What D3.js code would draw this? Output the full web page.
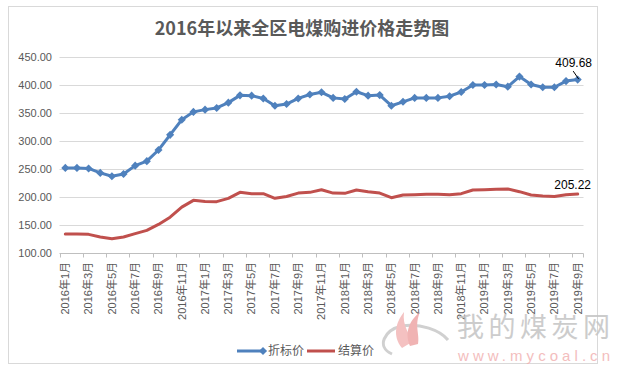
<!DOCTYPE html>
<html lang="zh">
<head>
<meta charset="utf-8" />
<title>2016年以来全区电煤购进价格走势图</title>
<script src="https://d3js.org/d3.v7.min.js"></script>
<style>
  body { margin: 0; background: #fff; }
  text { font-family: "Liberation Sans", "Noto Sans CJK SC", sans-serif; }
</style>
</head>
<body>
<div id="chart"></div>
<script>
// categories (monthly, 2016-01 .. 2019-09)
var months = [
  "2016年1月","2016年2月","2016年3月","2016年4月","2016年5月","2016年6月",
  "2016年7月","2016年8月","2016年9月","2016年10月","2016年11月","2016年12月",
  "2017年1月","2017年2月","2017年3月","2017年4月","2017年5月","2017年6月",
  "2017年7月","2017年8月","2017年9月","2017年10月","2017年11月","2017年12月",
  "2018年1月","2018年2月","2018年3月","2018年4月","2018年5月","2018年6月",
  "2018年7月","2018年8月","2018年9月","2018年10月","2018年11月","2018年12月",
  "2019年1月","2019年2月","2019年3月","2019年4月","2019年5月","2019年6月",
  "2019年7月","2019年8月","2019年9月"
];

// 折标价
var zhebiao = [
  252, 252, 251, 243, 237, 241, 256, 264, 284, 311, 338, 352,
  356, 359, 368.5, 381.5, 381, 376, 363, 366, 376, 383, 387, 377,
  375, 388, 381, 382, 363, 370, 377, 377, 377, 380, 387.5, 400,
  400, 401, 397, 415, 401, 396, 396, 407, 409.68
];

// 结算价
var jiesuan = [
  134, 134, 133.3, 128.6, 125.6, 128.6, 134.5, 140.5, 151, 164, 182, 194,
  192, 191.7, 197.6, 208.3, 206, 206, 197.6, 201, 207, 208.3, 213, 207,
  206.5, 212.5, 209.5, 207, 198.8, 203.6, 204, 204.8, 204.8, 204, 206, 212.5,
  213, 213.7, 214.3, 209.5, 203.6, 201.8, 201, 204, 205.22
];

var yTicks = [100, 150, 200, 250, 300, 350, 400, 450];
var seriesNames = ["折标价", "结算价"];
var colors = ["#4F81BD", "#C0504D"];

var W = 630, H = 373;
var svg = d3.select("#chart").append("svg")
  .attr("width", W).attr("height", H);

// chart frame
svg.append("rect")
  .attr("x", 8.5).attr("y", 6.5)
  .attr("width", 589).attr("height", 357)
  .attr("fill", "#fff").attr("stroke", "#d9d9d9");

// title
svg.append("text")
  .attr("x", 302).attr("y", 35)
  .attr("text-anchor", "middle")
  .style("font-family", "'Noto Sans CJK SC', sans-serif")
  .style("font-size", "18px").style("font-weight", "bold")
  .attr("fill", "#595959")
  .text("2016年以来全区电煤购进价格走势图");

var x = d3.scaleBand().domain(months).range([59.5, 583.5]).padding(0);
var y = d3.scaleLinear().domain([100, 450]).range([253, 57]);
var cx = function (m) { return x(m) + x.bandwidth() / 2; };

// gridlines
svg.append("g").selectAll("line")
  .data(yTicks.slice(1))
  .enter().append("line")
  .attr("x1", 59.5).attr("x2", 583.5)
  .attr("y1", function (d) { return Math.round(y(d)) + 0.5; })
  .attr("y2", function (d) { return Math.round(y(d)) + 0.5; })
  .attr("stroke", "#d9d9d9");

// y labels
svg.append("g").selectAll("text")
  .data(yTicks)
  .enter().append("text")
  .attr("x", 52).attr("y", function (d) { return y(d); })
  .attr("dy", "0.35em")
  .attr("text-anchor", "end")
  .style("font-size", "11px")
  .attr("fill", "#595959")
  .text(function (d) { return d.toFixed(2); });

// x axis line + ticks every 2 months
var axisY = Math.round(y(100)) + 0.5;
svg.append("line")
  .attr("x1", 59.5).attr("x2", 583.5)
  .attr("y1", axisY).attr("y2", axisY)
  .attr("stroke", "#bfbfbf");

var tickMonths = months.filter(function (d, i) { return i % 2 === 0; });
svg.append("g").selectAll("line")
  .data(tickMonths)
  .enter().append("line")
  .attr("x1", function (d) { return Math.round(x(d)) + 0.5; })
  .attr("x2", function (d) { return Math.round(x(d)) + 0.5; })
  .attr("y1", axisY).attr("y2", axisY + 4)
  .attr("stroke", "#bfbfbf");
svg.append("line")
  .attr("x1", 583.5).attr("x2", 583.5)
  .attr("y1", axisY).attr("y2", axisY + 4)
  .attr("stroke", "#bfbfbf");

// x labels, rotated
svg.append("g").selectAll("text")
  .data(tickMonths)
  .enter().append("text")
  .attr("transform", function (d) { return "translate(" + cx(d) + ",262)rotate(-90)"; })
  .attr("dy", "0.35em")
  .attr("text-anchor", "end")
  .style("font-size", "11px")
  .attr("fill", "#595959")
  .text(function (d) { return d; });

// lines
var line = d3.line()
  .x(function (d, i) { return cx(months[i]); })
  .y(function (d) { return y(d); });

svg.append("path").datum(jiesuan)
  .attr("d", line).attr("fill", "none")
  .attr("stroke", colors[1]).attr("stroke-width", 3)
  .attr("stroke-linejoin", "round").attr("stroke-linecap", "round");

svg.append("path").datum(zhebiao)
  .attr("d", line).attr("fill", "none")
  .attr("stroke", colors[0]).attr("stroke-width", 3)
  .attr("stroke-linejoin", "round").attr("stroke-linecap", "round");

var diamond = d3.symbol().type(d3.symbolDiamond2).size(42);
svg.append("g").selectAll("path")
  .data(zhebiao)
  .enter().append("path")
  .attr("d", diamond)
  .attr("transform", function (d, i) { return "translate(" + cx(months[i]) + "," + y(d) + ")"; })
  .attr("fill", colors[0]);

// end labels
var last = months.length - 1;
var lx = cx(months[last]);
svg.append("line")
  .attr("x1", lx - 4.5).attr("y1", y(zhebiao[last]) - 8.5)
  .attr("x2", lx + 1).attr("y2", y(zhebiao[last]) - 0.5)
  .attr("stroke", "#000").attr("stroke-width", 1);
svg.append("text")
  .attr("x", lx - 4).attr("y", y(zhebiao[last]) - 13)
  .attr("text-anchor", "middle")
  .style("font-size", "12px").attr("fill", "#000")
  .text(zhebiao[last].toFixed(2));
svg.append("text")
  .attr("x", lx - 5).attr("y", y(jiesuan[last]) - 5)
  .attr("text-anchor", "middle")
  .style("font-size", "12px").attr("fill", "#000")
  .text(jiesuan[last].toFixed(2));

// legend
var lg = svg.append("g");
var legendItems = [
  { name: seriesNames[0], color: colors[0], x0: 237, marker: true },
  { name: seriesNames[1], color: colors[1], x0: 307, marker: false }
];
legendItems.forEach(function (it) {
  lg.append("line")
    .attr("x1", it.x0).attr("x2", it.x0 + 28)
    .attr("y1", 351).attr("y2", 351)
    .attr("stroke", it.color).attr("stroke-width", 3);
  if (it.marker) {
    lg.append("path").attr("d", diamond)
      .attr("transform", "translate(" + (it.x0 + 26) + ",351)")
      .attr("fill", it.color);
  }
  lg.append("text")
    .attr("x", it.x0 + 31).attr("y", 351).attr("dy", "0.35em")
    .style("font-family", "'Noto Sans CJK SC', sans-serif")
    .style("font-size", "12px").attr("fill", "#595959")
    .text(it.name);
});

// watermark
var wm = svg.append("g").attr("opacity", 0.85);
wm.append("path")
  .attr("d", "M392,354 C376,347 384,330 402,326 C420,323 440,330 448,340")
  .attr("fill", "none").attr("stroke", "#c8c8c8").attr("stroke-width", 3);
wm.append("path")
  .attr("d", "M402,348 C392,336 396,322 404,312 C402,326 410,334 412,342 Z")
  .attr("fill", "#f3b7b7");
wm.append("path")
  .attr("d", "M410,346 C404,332 410,320 420,312 C414,326 420,334 418,344 Z")
  .attr("fill", "#eea6a6");
wm.append("text")
  .attr("x", 457).attr("y", 337)
  .attr("textLength", 153)
  .style("font-family", "'Noto Sans CJK SC', sans-serif")
  .style("font-size", "27px").attr("fill", "#c4c4c4")
  .text("我的煤炭网");
wm.append("text")
  .attr("x", 458).attr("y", 361)
  .attr("textLength", 152)
  .style("font-size", "15px").attr("fill", "#f2b3b3")
  .text("www.mycoal.cn");
</script>
</body>
</html>
